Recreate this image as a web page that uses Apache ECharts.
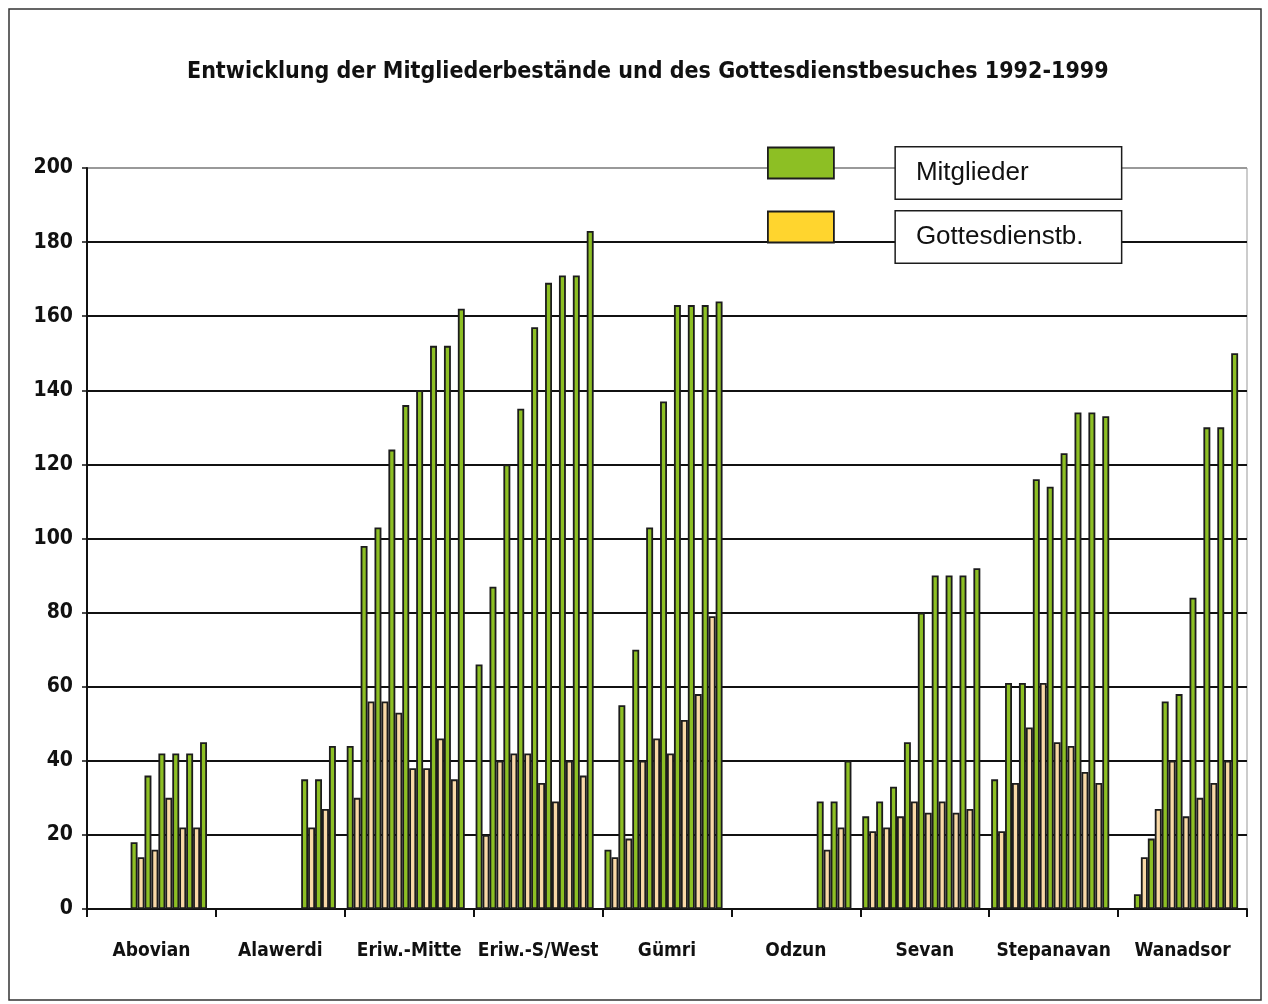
<!DOCTYPE html>
<html>
<head>
<meta charset="utf-8">
<script src="https://cdn.jsdelivr.net/npm/echarts@6/dist/echarts.min.js"></script>
<style>
  html, body { margin: 0; padding: 0; background: #fff; }
  #chart { width: 1268px; height: 1004px; }
</style>
</head>
<body>
<div id="chart"></div>
<script>
// Orte (Kategorien)
const towns = ["Abovian", "Alawerdi", "Eriw.-Mitte", "Eriw.-S/West", "Gümri", "Odzun", "Sevan", "Stepanavan", "Wanadsor"];
// 9 Erhebungen je Ort, null = kein Wert
const mitglieder = [
  [null, null, null, 18, 36, 42, 42, 42, 45],
  [null, null, null, null, null, null, 35, 35, 44],
  [44, 98, 103, 124, 136, 140, 152, 152, 162],
  [66, 87, 120, 135, 157, 169, 171, 171, 183],
  [16, 55, 70, 103, 137, 163, 163, 163, 164],
  [null, null, null, null, null, null, 29, 29, 40],
  [25, 29, 33, 45, 80, 90, 90, 90, 92],
  [35, 61, 61, 116, 114, 123, 134, 134, 133],
  [null, 4, 19, 56, 58, 84, 130, 130, 150],
];
const gottesdienst = [
  [null, null, null, 14, 16, 30, 22, 22, null],
  [null, null, null, null, null, null, 22, 27, null],
  [30, 56, 56, 53, 38, 38, 46, 35, null],
  [20, 40, 42, 42, 34, 29, 40, 36, null],
  [14, 19, 40, 46, 42, 51, 58, 79, null],
  [null, null, null, null, null, null, 16, 22, null],
  [21, 22, 25, 29, 26, 29, 26, 27, null],
  [21, 34, 49, 61, 45, 44, 37, 34, null],
  [null, 14, 27, 40, 25, 30, 34, 40, null],
];
const yTicks = [0, 200, 20]; // min, max, interval

const GREEN = "#8dbf24";
const PEACH = "#f8d8a6";
const LEGEND_YELLOW = "#ffd52e";
const BORDER = "#1c1c1c";
const NARROW = "'Liberation Sans Narrow', 'DejaVu Sans Condensed', sans-serif";

// je Erhebung ein grüner und ein heller Balken nebeneinander
const series = [];
for (let p = 0; p < mitglieder[0].length; p++) {
  series.push({
    type: "bar",
    name: "Mitglieder",
    data: mitglieder.map((row) => row[p]),
    barGap: "0%",
    barCategoryGap: "3%",
    itemStyle: { color: GREEN, borderColor: BORDER, borderWidth: 1.8 },
  });
  series.push({
    type: "bar",
    name: "Gottesdienstb.",
    data: gottesdienst.map((row) => row[p]),
    barGap: "0%",
    barCategoryGap: "3%",
    itemStyle: { color: PEACH, borderColor: BORDER, borderWidth: 1.8 },
  });
}

// Legende: Farbfeld links, Text in eigenem Rahmen rechts
function legendBox(name, color, top) {
  return {
    data: [{ name: name, icon: "rect", itemStyle: { color: color, borderColor: BORDER, borderWidth: 1.8 } }],
    left: 767,
    top: top,
    padding: 0,
    itemWidth: 66,
    itemHeight: 31,
    selectedMode: false,
    formatter: (n) => "{gap| }{box|" + n + "}",
    textStyle: {
      padding: [20, 0, 0, 0],
      rich: {
        gap: { width: 57 },
        box: {
          width: 205,
          height: 51,
          padding: [0, 0, 0, 20],
          borderColor: BORDER,
          borderWidth: 1.5,
          backgroundColor: "#fff",
          fontSize: 26,
          fontFamily: "'Liberation Sans', Arial, sans-serif",
          color: "#111",
        },
      },
    },
  };
}

const chart = echarts.init(document.getElementById("chart"), null, { renderer: "canvas" });
chart.setOption({
  backgroundColor: "#fff",
  animation: false,
  title: {
    text: "Entwicklung der Mitgliederbestände und des Gottesdienstbesuches 1992-1999",
    left: 182,
    top: 56,
    textStyle: { fontFamily: NARROW, fontWeight: "bold", fontSize: 23, color: "#111" },
  },
  legend: [legendBox("Mitglieder", GREEN, 146), legendBox("Gottesdienstb.", LEGEND_YELLOW, 210)],
  grid: {
    left: 87,
    right: 21,
    top: 168,
    bottom: 95,
    show: true,
    borderColor: "#999",
    borderWidth: 1,
  },
  xAxis: {
    type: "category",
    data: towns,
    axisLine: { lineStyle: { color: "#111", width: 2 } },
    axisTick: { show: true, interval: 0, length: 8, lineStyle: { color: "#111", width: 2 } },
    axisLabel: { interval: 0, margin: 33, fontFamily: NARROW, fontWeight: "bold", fontSize: 19, color: "#111" },
  },
  yAxis: {
    type: "value",
    min: yTicks[0],
    max: yTicks[1],
    interval: yTicks[2],
    axisLine: { show: true, lineStyle: { color: "#111", width: 2 } },
    axisTick: { show: true, length: 5, lineStyle: { color: "#111", width: 1.5 } },
    axisLabel: { margin: 14, fontFamily: NARROW, fontWeight: "bold", fontSize: 21, color: "#111" },
    splitLine: {
      show: true,
      lineStyle: {
        color: ["#111", "#111", "#111", "#111", "#111", "#111", "#111", "#111", "#111", "#111", "#999"],
        width: 2,
      },
    },
  },
  graphic: [
    {
      type: "rect",
      shape: { x: 9, y: 9, width: 1252, height: 991 },
      style: { fill: null, stroke: "#333", lineWidth: 1.5 },
      silent: true,
    },
  ],
  series: series,
});
</script>
</body>
</html>
